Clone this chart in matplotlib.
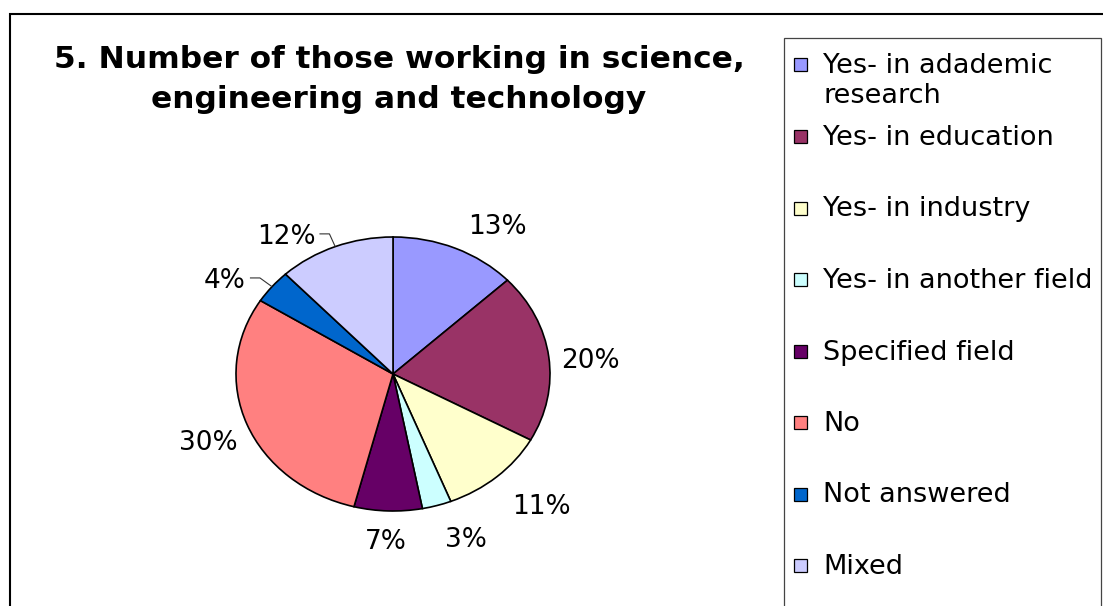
import numpy as np
import matplotlib
matplotlib.use("Agg")
import matplotlib.pyplot as plt
from matplotlib.patches import Rectangle

# ---- data ----
title_text = "5. Number of those working in science,\nengineering and technology"
categories = [
    "Yes- in adademic\nresearch",
    "Yes- in education",
    "Yes- in industry",
    "Yes- in another field",
    "Specified field",
    "No",
    "Not answered",
    "Mixed",
]
shares = [13, 20, 11, 3, 7, 30, 4, 12]
colors = ["#9999FF", "#993366", "#FFFFCC", "#CCFFFF",
          "#660066", "#FF8080", "#0066CC", "#CCCCFF"]

# ---- layout (pixels, measured from the top-left corner) ----
W, H = 1103, 606
CX, CY, RX, RY = 393, 374, 157, 137          # pie centre and radii
# label placement: distance from centre (in radii) and turn from wedge middle (deg)
pct_radius = [1.28, 1.26, 1.34, 1.28, 1.21, 1.27, None, None]
pct_turn = [-7.8, -1.9, 3.3, 5.0, -0.3, 0.7, 0, 0]
leader_labels = {6, 7}                       # labels drawn with a leader line
PCT_SIZE = 19
LEG_SIZE = 19.5
TITLE_SIZE = 22.5

fig = plt.figure(figsize=(W / 100, H / 100), dpi=100)
fig.patch.set_facecolor("white")

ax = fig.add_axes([0, 0, 1, 1])
wedges, _ = ax.pie(shares, colors=colors, startangle=90, counterclock=False,
                   wedgeprops=dict(edgecolor="black", linewidth=1.2))
ax.set_aspect("auto")
ax.set_xlim(-CX / RX, (W - CX) / RX)
ax.set_ylim(-(H - CY) / RY, CY / RY)
ax.axis("off")

# percentage labels
total = float(sum(shares))
start = 90.0
for i, v in enumerate(shares):
    sweep = 360.0 * v / total
    mid = np.radians(start - sweep / 2)
    start -= sweep
    txt = f"{round(100 * v / total):d}%"
    if i in leader_labels:
        ex, ey = np.cos(mid), np.sin(mid)
        bx, by = 1.10 * ex, 1.10 * ey
        hx = bx - 10 / RX
        ax.plot([ex, bx, hx], [ey, by, by], color="#333333", lw=0.8,
                solid_capstyle="butt")
        ax.annotate(txt, xy=(hx, by), xytext=(-3, -0.3645 * PCT_SIZE),
                    textcoords="offset points", ha="right", va="baseline",
                    fontsize=PCT_SIZE, color="black")
    else:
        a = mid + np.radians(pct_turn[i])
        r = pct_radius[i]
        ax.annotate(txt, xy=(r * np.cos(a), r * np.sin(a)),
                    xytext=(0, -0.3645 * PCT_SIZE), textcoords="offset points",
                    ha="center", va="baseline", fontsize=PCT_SIZE, color="black")

# title, one line at a time
for k, line in enumerate(title_text.split("\n")):
    fig.text(399 / W, 1 - (68 + 40 * k) / H, line, ha="center", va="baseline",
             fontsize=TITLE_SIZE, fontweight="bold", color="black")

# outer chart frame
fig.patches.append(Rectangle((10, -20), W + 20, H - 14 + 20, transform=None,
                             fill=False, edgecolor="black", linewidth=1.5))

# legend box
fig.patches.append(Rectangle((784, -20), 1101 - 784, H - 38 + 20, transform=None,
                             fill=False, edgecolor="#444444", linewidth=0.9))

# legend entries
baselines = [73] + [145 + 71.5 * k for k in range(len(categories) - 1)]
for lab, col, base in zip(categories, colors, baselines):
    fig.patches.append(Rectangle((794, H - base + 2), 13, 13, transform=None,
                                 facecolor=col, edgecolor="black", linewidth=0.9))
    for k, line in enumerate(lab.split("\n")):
        fig.text(823 / W, 1 - (base + 30 * k) / H, line, ha="left",
                 va="baseline", fontsize=LEG_SIZE, color="black")

fig.savefig("out.png", dpi=100, facecolor="white")
